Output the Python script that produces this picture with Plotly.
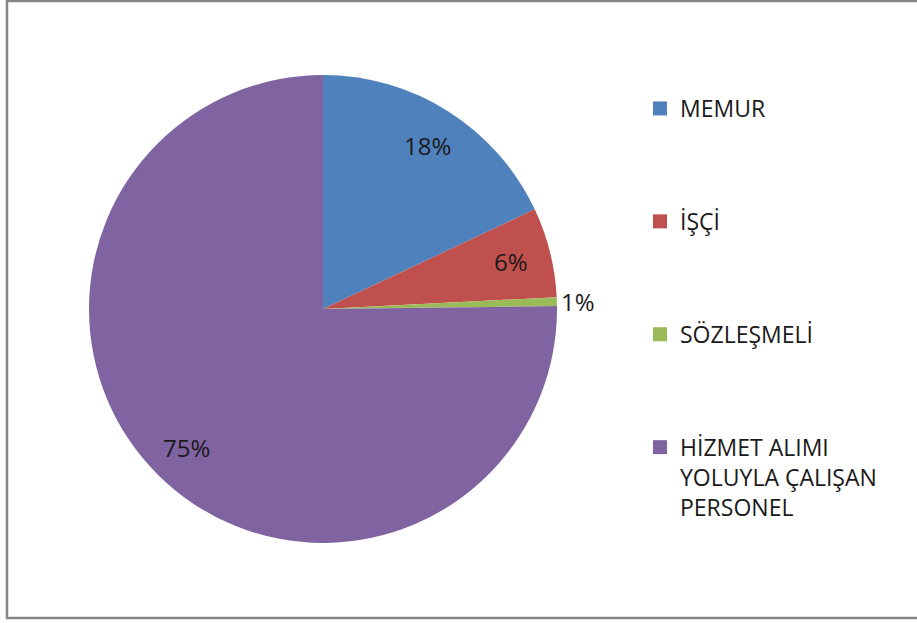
import math
import plotly.graph_objects as go

categories = ["MEMUR", "İŞÇİ", "SÖZLEŞMELİ", "HİZMET ALIMI<br>YOLUYLA ÇALIŞAN<br>PERSONEL"]
values = [18.0, 6.2, 0.6, 75.2]
colors = ["#4F81BD", "#C0504D", "#9BBB59", "#8064A2"]
label_inside = [True, True, False, True]

W, H = 917, 623
cx, cy, r = 323, 309, 234          # pie centre / radius in page pixels
LABEL_R = 0.83                     # inside labels radius fraction
TXT = "#1a1a1a"

fig = go.Figure()
fig.add_trace(go.Pie(
    labels=categories,
    values=values,
    sort=False,
    direction="clockwise",
    rotation=0,
    marker=dict(colors=colors, line=dict(width=0)),
    textinfo="none",
    domain=dict(x=[(cx - r) / W, (cx + r) / W], y=[(H - cy - r) / H, (H - cy + r) / H]),
    hoverinfo="label+percent",
    showlegend=False,
))

# legend entries (one group per category so they can be spread out)
for cat, col in zip(categories, colors):
    fig.add_trace(go.Scatter(
        x=[None], y=[None], mode="markers", name=cat, legendgroup=cat,
        marker=dict(symbol="square", size=14, color=col),
        hoverinfo="skip",
    ))

# percentage labels placed like Excel's "best fit" (mid-angle of each slice)
total = sum(values)
annotations = []
cum = 0.0
for v, inside in zip(values, label_inside):
    mid = 90 - (cum + v / 2) / total * 360
    cum += v
    pct = f"{round(v / total * 100)}%"
    a = math.radians(mid)
    rr = LABEL_R if inside else 1.01
    px = cx + rr * r * math.cos(a)
    py = cy - rr * r * math.sin(a)
    annotations.append(dict(x=px / W, y=1 - py / H, xref="paper", yref="paper",
                            text=pct, showarrow=False,
                            xanchor="center" if inside else "left", yanchor="middle",
                            font=dict(family="Open Sans", size=24, color=TXT)))

fig.update_layout(
    width=W, height=H,
    margin=dict(l=0, r=0, t=0, b=0),
    paper_bgcolor="white",
    plot_bgcolor="rgba(0,0,0,0)",
    xaxis=dict(visible=False),
    yaxis=dict(visible=False),
    font=dict(family="Open Sans", size=22, color=TXT),
    annotations=annotations,
    legend=dict(
        x=640 / W, y=1 - 87 / H, xanchor="left", yanchor="top",
        valign="top",
        traceorder="grouped",
        tracegroupgap=80,
        font=dict(family="Open Sans", size=23, color=TXT),
        bgcolor="rgba(0,0,0,0)",
    ),
    shapes=[
        dict(type="rect", xref="paper", yref="paper",
             x0=7 / W, x1=1.02, y0=(H - 618) / H, y1=1 - 1 / H,
             line=dict(color="#878787", width=2.5), fillcolor="rgba(0,0,0,0)", layer="below"),
    ],
)

fig.write_html("out.html", config={"displayModeBar": False},
               post_script="document.body.style.margin='0px';")
